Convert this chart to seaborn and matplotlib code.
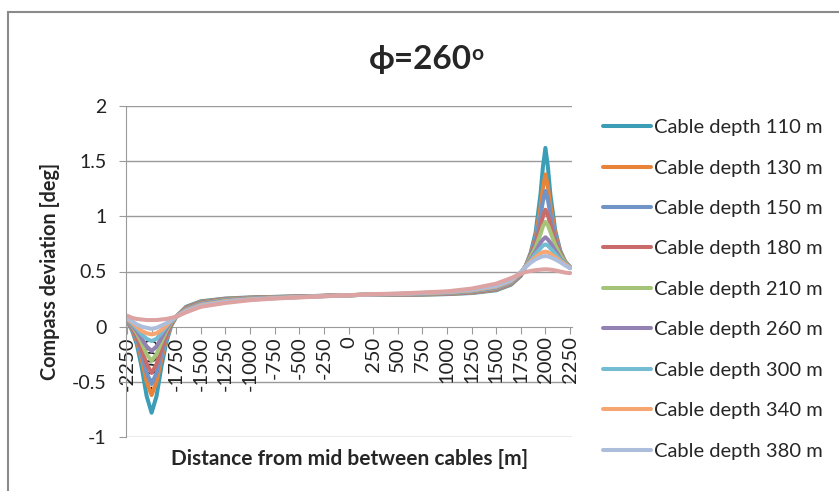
import pandas as pd
import seaborn as sns
import matplotlib.pyplot as plt
from matplotlib.patches import Rectangle

# Datos
distancia = [-2250, -2200, -2150, -2100, -2050, -2000, -1950, -1900, -1850, -1800, -1750, -1650,
             -1500, -1250, -1000, -750, -500, -250, 0, 250, 500, 750, 1000, 1250,
             1500, 1650, 1750, 1800, 1850, 1900, 1950, 1975, 2000, 2025, 2050, 2100, 2150, 2200, 2250]

d110 = [0.05, -0.03, -0.16, -0.37, -0.63, -0.78, -0.63, -0.36, -0.14, 0.01, 0.09, 0.18,
        0.23, 0.255, 0.265, 0.27, 0.275, 0.28, 0.285, 0.29, 0.29, 0.29, 0.295, 0.305,
        0.33, 0.38, 0.46, 0.55, 0.67, 0.85, 1.20, 1.45, 1.62, 1.45, 1.20, 0.87, 0.69, 0.59, 0.53]
d130 = [0.05, -0.02, -0.13, -0.30, -0.50, -0.62, -0.50, -0.29, -0.11, 0.02, 0.09, 0.175,
        0.225, 0.252, 0.263, 0.269, 0.274, 0.28, 0.285, 0.29, 0.291, 0.292, 0.297, 0.308,
        0.335, 0.385, 0.465, 0.55, 0.66, 0.81, 1.08, 1.26, 1.38, 1.27, 1.10, 0.84, 0.68, 0.59, 0.535]
d150 = [0.05, -0.01, -0.11, -0.26, -0.42, -0.52, -0.42, -0.25, -0.09, 0.03, 0.09, 0.17,
        0.22, 0.249, 0.261, 0.268, 0.273, 0.279, 0.285, 0.29, 0.292, 0.294, 0.299, 0.311,
        0.34, 0.39, 0.47, 0.55, 0.65, 0.79, 1.00, 1.14, 1.23, 1.15, 1.02, 0.81, 0.67, 0.59, 0.54]
d180 = [0.06, 0.0, -0.09, -0.21, -0.34, -0.42, -0.34, -0.20, -0.07, 0.03, 0.09, 0.165,
        0.215, 0.246, 0.259, 0.267, 0.272, 0.279, 0.285, 0.291, 0.293, 0.296, 0.301, 0.314,
        0.345, 0.395, 0.475, 0.55, 0.64, 0.75, 0.91, 1.00, 1.06, 1.01, 0.93, 0.77, 0.66, 0.59, 0.54]
d210 = [0.06, 0.01, -0.06, -0.15, -0.25, -0.31, -0.25, -0.14, -0.04, 0.04, 0.09, 0.16,
        0.21, 0.243, 0.257, 0.265, 0.271, 0.278, 0.285, 0.291, 0.294, 0.298, 0.304, 0.318,
        0.35, 0.40, 0.48, 0.55, 0.63, 0.72, 0.84, 0.91, 0.95, 0.92, 0.86, 0.74, 0.65, 0.585, 0.54]
d260 = [0.06, 0.02, -0.04, -0.11, -0.18, -0.22, -0.18, -0.10, -0.02, 0.05, 0.09, 0.155,
        0.205, 0.238, 0.254, 0.263, 0.27, 0.278, 0.285, 0.292, 0.295, 0.30, 0.307, 0.322,
        0.355, 0.405, 0.485, 0.55, 0.61, 0.68, 0.76, 0.79, 0.81, 0.79, 0.76, 0.69, 0.62, 0.575, 0.54]
d300 = [0.07, 0.03, -0.02, -0.07, -0.11, -0.13, -0.11, -0.06, 0.0, 0.05, 0.09, 0.15,
        0.20, 0.234, 0.251, 0.261, 0.269, 0.277, 0.285, 0.292, 0.296, 0.302, 0.31, 0.326,
        0.36, 0.41, 0.49, 0.55, 0.60, 0.66, 0.71, 0.735, 0.745, 0.735, 0.71, 0.66, 0.61, 0.57, 0.54]
d340 = [0.07, 0.04, 0.0, -0.04, -0.06, -0.07, -0.06, -0.03, 0.01, 0.06, 0.09, 0.145,
        0.195, 0.23, 0.248, 0.259, 0.268, 0.277, 0.285, 0.293, 0.297, 0.304, 0.313, 0.33,
        0.365, 0.415, 0.49, 0.545, 0.59, 0.63, 0.665, 0.675, 0.68, 0.675, 0.66, 0.63, 0.595, 0.565, 0.535]
d380 = [0.08, 0.05, 0.02, 0.0, -0.01, -0.02, -0.01, 0.01, 0.03, 0.06, 0.09, 0.14,
        0.19, 0.225, 0.245, 0.257, 0.267, 0.276, 0.285, 0.293, 0.298, 0.306, 0.316, 0.335,
        0.37, 0.42, 0.495, 0.54, 0.58, 0.61, 0.63, 0.637, 0.64, 0.637, 0.63, 0.61, 0.585, 0.555, 0.53]
d420 = [0.10, 0.08, 0.07, 0.065, 0.06, 0.06, 0.06, 0.065, 0.07, 0.08, 0.09, 0.13,
        0.18, 0.215, 0.24, 0.255, 0.265, 0.275, 0.285, 0.295, 0.30, 0.31, 0.32, 0.345,
        0.39, 0.44, 0.48, 0.495, 0.505, 0.512, 0.517, 0.519, 0.52, 0.519, 0.517, 0.51, 0.50, 0.49, 0.485]

profundidades = [110, 130, 150, 180, 210, 260, 300, 340, 380, 420]
series = [d110, d130, d150, d180, d210, d260, d300, d340, d380, d420]
colores = ['#3C9DB7', '#E8833A', '#7093C8', '#C86B69', '#A5C47A',
           '#9281B2', '#74BCD2', '#F7A571', '#ACBEDB', '#DCA3A2']
ticks_x = list(range(-2250, 2251, 250))

# Dataframe largo para seaborn
filas = []
for p, s in zip(profundidades, series):
    for x, y in zip(distancia, s):
        filas.append([x, y, 'Cable depth %d m' % p])
df = pd.DataFrame(filas, columns=['Distancia', 'Desviacion', 'Serie'])
orden = ['Cable depth %d m' % p for p in profundidades]

sns.set_style('white')
plt.rcParams['font.family'] = ['Lato', 'DejaVu Sans']
plt.rcParams['axes.unicode_minus'] = False

fig = plt.figure(figsize=(8.39, 4.91), dpi=100)
ax = fig.add_axes([126/839, 1-437/491, (572-126)/839, (437-106)/491])

sns.lineplot(data=df, x='Distancia', y='Desviacion', hue='Serie', hue_order=orden,
             palette=colores, linewidth=2.9, ax=ax, legend=False, sort=False,
             solid_joinstyle='round', solid_capstyle='round')

gris = '#9A9A9A'
ax.spines['top'].set_visible(False)
ax.spines['right'].set_visible(False)
ax.spines['left'].set_color(gris)
ax.spines['bottom'].set_position(('data', 0))
ax.spines['bottom'].set_color(gris)
ax.spines['bottom'].set_zorder(0)

ax.set_xlim(-2260, 2270)
ax.set_ylim(-1, 2)
ax.set_yticks([-1, -0.5, 0, 0.5, 1, 1.5, 2])
ax.set_yticklabels(['-1', '-0.5', '0', '0.5', '1', '1.5', '2'])
ax.set_xticks(ticks_x)
ax.set_xticklabels([str(t) for t in ticks_x])
for yv in [-1, -0.5, 0.5, 1, 1.5, 2]:
    ax.axhline(yv, color=gris, lw=1, zorder=0)

ax.tick_params(axis='y', direction='out', length=5, color=gris, pad=9, labelsize=14, labelcolor='#222222', left=True)
ax.tick_params(axis='x', direction='out', length=5, color=gris, pad=2, labelsize=14.5, labelcolor='#222222',
               bottom=True, labelrotation=90)
ax.set_xlabel('')
ax.set_ylabel('')

fig.text(50/839, 1-271/491, 'Compass deviation [deg]', rotation=90, ha='center', va='center',
         fontsize=14.3, fontweight='bold')
fig.text(350/839, 1-459/491, 'Distance from mid between cables [m]', ha='center', va='center',
         fontsize=15, fontweight='bold')
titulo = fig.text(420/839, 1-59/491, 'ϕ=260', ha='center', va='center',
                  fontsize=24, fontweight='bold')
ax.annotate('o', xy=(1.0, 1.0), xycoords=titulo, ha='left', va='top',
            fontsize=15, fontweight='bold', annotation_clip=False)

lineas = ax.get_lines()[:9]
ax.legend(lineas, orden[:9], loc='upper left', bbox_to_anchor=(603/839, 1-119/491),
          bbox_transform=fig.transFigure, frameon=False, fontsize=14.5,
          handlelength=2.4, handletextpad=0.15, labelspacing=1.16, borderaxespad=0, borderpad=0)

fig.patches.append(Rectangle((8/839, -0.1), 1.0, 1.1 - 12.5/491, transform=fig.transFigure,
                             fill=False, edgecolor='#8A8A8A', lw=1.5))

plt.savefig('out.png', dpi=100)
